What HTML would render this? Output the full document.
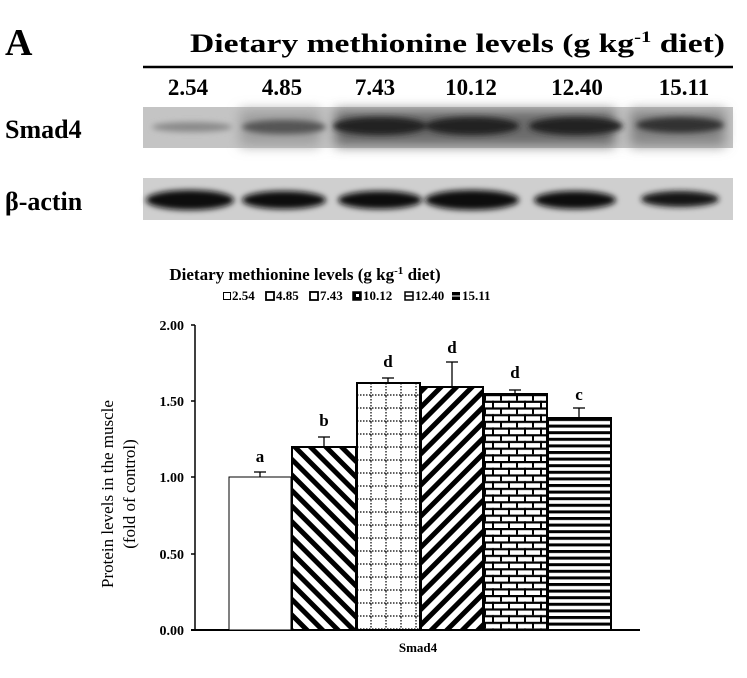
<!DOCTYPE html>
<html><head><meta charset="utf-8"><style>
html,body{margin:0;padding:0;background:#fff;}
svg{display:block;font-family:"Liberation Serif",serif;}
</style></head><body>
<svg width="747" height="678" viewBox="0 0 747 678" xmlns="http://www.w3.org/2000/svg">
<defs>
<filter id="bl" x="-20%" y="-50%" width="140%" height="200%"><feGaussianBlur stdDeviation="3"/></filter>
<filter id="bl2" x="-20%" y="-50%" width="140%" height="200%"><feGaussianBlur stdDeviation="6"/></filter>
<pattern id="p2" width="11" height="11" patternUnits="userSpaceOnUse" patternTransform="rotate(-45)">
<rect width="11" height="11" fill="#fff"/><rect x="0" y="0" width="5" height="11" fill="#000"/></pattern>
<pattern id="p4" width="11" height="11" patternUnits="userSpaceOnUse" patternTransform="rotate(45)">
<rect width="11" height="11" fill="#fff"/><rect x="0" y="0" width="5" height="11" fill="#000"/></pattern>
<pattern id="p3" width="15" height="13" patternUnits="userSpaceOnUse" x="357" y="383">
<rect width="15" height="13" fill="#fff"/>
<line x1="0" y1="12" x2="15" y2="12" stroke="#000" stroke-width="1.2" stroke-dasharray="1.5,1.5"/>
<line x1="14" y1="0" x2="14" y2="13" stroke="#000" stroke-width="1.2" stroke-dasharray="1.5,1.5"/></pattern>
<pattern id="p5" width="16" height="13.4" patternUnits="userSpaceOnUse" x="484" y="394">
<rect width="16" height="13.4" fill="#fff"/>
<rect x="0" y="0" width="16" height="2.2" fill="#000"/><rect x="0" y="6.7" width="16" height="2.2" fill="#000"/>
<rect x="0" y="0" width="2" height="6.7" fill="#000"/><rect x="8" y="6.7" width="2" height="6.7" fill="#000"/></pattern>
<pattern id="p6" width="10" height="6.6" patternUnits="userSpaceOnUse" x="547" y="418">
<rect width="10" height="6.6" fill="#fff"/><rect x="0" y="0" width="10" height="3" fill="#000"/></pattern>
</defs>

<text x="5" y="55" font-size="38" font-weight="bold">A</text>
<text x="190" y="52" font-size="26" font-weight="bold" textLength="535" lengthAdjust="spacingAndGlyphs">Dietary methionine levels (g kg<tspan font-size="16" dy="-10">-1</tspan><tspan dy="10"> diet)</tspan></text>
<line x1="143" y1="67" x2="733" y2="67" stroke="#000" stroke-width="2.5"/>
<g font-size="23" font-weight="bold" text-anchor="middle">
<text x="188" y="95">2.54</text><text x="282" y="95">4.85</text><text x="375" y="95">7.43</text>
<text x="471" y="95">10.12</text><text x="577" y="95">12.40</text><text x="684" y="95">15.11</text></g>
<text x="5" y="138" font-size="26" font-weight="bold">Smad4</text>
<text x="5" y="210" font-size="26" font-weight="bold">β-actin</text>

<rect x="143" y="107" width="590" height="41" fill="#c4c4c4"/>
<g filter="url(#bl2)">
<rect x="240" y="110" width="80" height="36" fill="#a0a0a0"/>
<rect x="335" y="110" width="280" height="36" fill="#6a6a6a"/>
<rect x="630" y="110" width="95" height="36" fill="#858585"/>
</g>
<g filter="url(#bl)">
<ellipse cx="192" cy="127" rx="40" ry="5" fill="#8a8a8a"/>
<ellipse cx="284" cy="127" rx="42" ry="7" fill="#555"/>
<ellipse cx="380" cy="126" rx="47" ry="9" fill="#222"/>
<ellipse cx="472" cy="126" rx="47" ry="9" fill="#222"/>
<ellipse cx="576" cy="126" rx="47" ry="9" fill="#222"/>
<ellipse cx="680" cy="125" rx="44" ry="8" fill="#333"/>
</g>
<rect x="143" y="178" width="590" height="42" fill="#cfcfcf"/>
<g filter="url(#bl)">
<ellipse cx="190" cy="200" rx="44" ry="10" fill="#111"/>
<ellipse cx="284" cy="200" rx="42" ry="9" fill="#111"/>
<ellipse cx="380" cy="200" rx="42" ry="9" fill="#111"/>
<ellipse cx="472" cy="200" rx="47" ry="10" fill="#111"/>
<ellipse cx="575" cy="200" rx="41" ry="9" fill="#111"/>
<ellipse cx="680" cy="199" rx="39" ry="8" fill="#151515"/>
</g>

<text x="305" y="280" font-size="17" font-weight="bold" text-anchor="middle">Dietary methionine levels (g kg<tspan font-size="11" dy="-6">-1</tspan><tspan dy="6"> diet)</tspan></text>
<g font-size="13" font-weight="bold">
<rect x="223.5" y="292.5" width="7" height="7" fill="#fff" stroke="#000"/><text x="232" y="300">2.54</text>
<rect x="266" y="292" width="8" height="8" fill="#fff" stroke="#000" stroke-width="1.8"/><text x="276" y="300">4.85</text>
<rect x="310" y="292" width="8" height="8" fill="#fff" stroke="#000" stroke-width="1.8"/><text x="320" y="300">7.43</text>
<rect x="353" y="292" width="8" height="8" fill="#000" stroke="#000" stroke-width="1.5"/><rect x="356" y="294" width="3" height="3" fill="#fff"/><text x="363" y="300">10.12</text>
<rect x="405" y="292" width="8" height="8" fill="#fff" stroke="#000" stroke-width="1.5"/><line x1="405" y1="296" x2="413" y2="296" stroke="#000" stroke-width="1.5"/><text x="415" y="300">12.40</text>
<rect x="452" y="292" width="8" height="8" fill="#000"/><line x1="452" y1="296" x2="460" y2="296" stroke="#fff" stroke-width="1"/><text x="462" y="300">15.11</text>
</g>

<g font-size="14" font-weight="bold" text-anchor="end">
<text x="184" y="330">2.00</text><text x="184" y="406">1.50</text><text x="184" y="482">1.00</text>
<text x="184" y="559">0.50</text><text x="184" y="635">0.00</text></g>
<g stroke="#000" stroke-width="1.5">
<line x1="195" y1="325" x2="195" y2="631"/>
<line x1="191" y1="325" x2="195" y2="325"/><line x1="191" y1="401" x2="195" y2="401"/>
<line x1="191" y1="477" x2="195" y2="477"/><line x1="191" y1="554" x2="195" y2="554"/>
</g>
<line x1="191" y1="630" x2="640" y2="630" stroke="#000" stroke-width="2"/>
<text transform="translate(113,494) rotate(-90)" font-size="17" text-anchor="middle">Protein levels in the muscle</text>
<text transform="translate(135,494) rotate(-90)" font-size="17" text-anchor="middle">(fold of control)</text>
<text x="418" y="652" font-size="13" font-weight="bold" text-anchor="middle">Smad4</text>

<g stroke="#000" stroke-width="1.3">
<line x1="260" y1="477" x2="260" y2="472"/><line x1="254" y1="472" x2="266" y2="472"/>
<line x1="324" y1="447" x2="324" y2="437"/><line x1="318" y1="437" x2="330" y2="437"/>
<line x1="388" y1="383" x2="388" y2="378"/><line x1="382" y1="378" x2="394" y2="378"/>
<line x1="452" y1="387" x2="452" y2="362"/><line x1="446" y1="362" x2="458" y2="362"/>
<line x1="515" y1="394" x2="515" y2="390"/><line x1="509" y1="390" x2="521" y2="390"/>
<line x1="579" y1="418" x2="579" y2="408"/><line x1="573" y1="408" x2="585" y2="408"/>
</g>
<rect x="229" y="477" width="62" height="153" fill="#fff" stroke="#000" stroke-width="1"/>
<rect x="292" y="447" width="64" height="183" fill="url(#p2)" stroke="#000" stroke-width="2"/>
<rect x="357" y="383" width="63" height="247" fill="url(#p3)" stroke="#000" stroke-width="2"/>
<rect x="421" y="387" width="62" height="243" fill="url(#p4)" stroke="#000" stroke-width="2"/>
<rect x="484" y="394" width="63" height="236" fill="url(#p5)" stroke="#000" stroke-width="2"/>
<rect x="548" y="418" width="63" height="212" fill="url(#p6)" stroke="#000" stroke-width="2"/>
<g font-size="17" font-weight="bold" text-anchor="middle">
<text x="260" y="462">a</text><text x="324" y="426">b</text><text x="388" y="367">d</text>
<text x="452" y="353">d</text><text x="515" y="378">d</text><text x="579" y="400">c</text></g>
</svg>
</body></html>
